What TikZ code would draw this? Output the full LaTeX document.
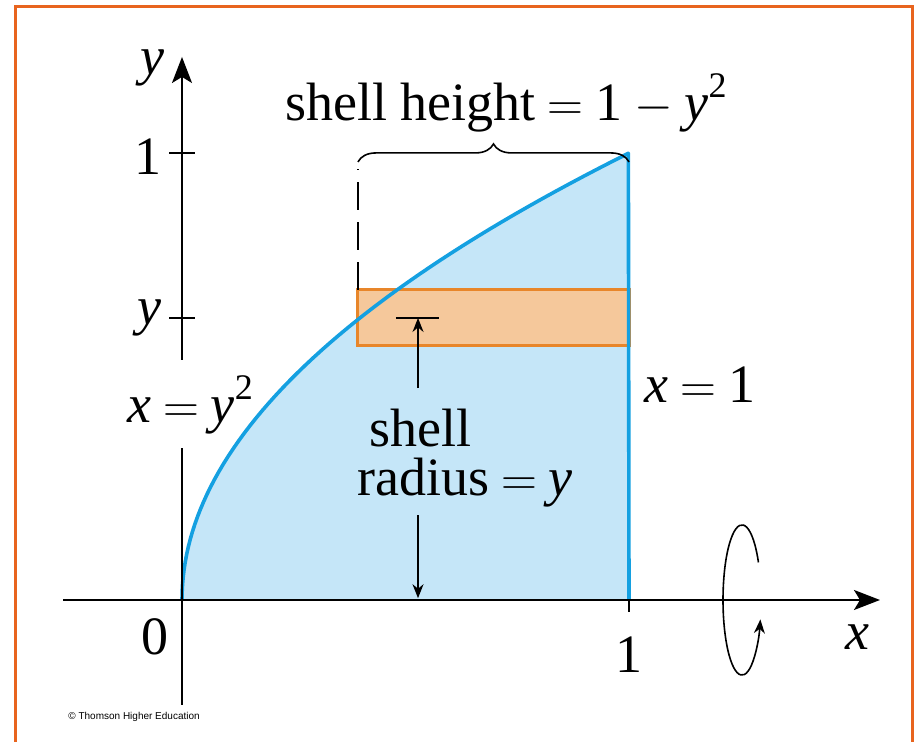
\documentclass[tikz,border=0pt]{standalone}
\usepackage{fontspec}
\setmainfont{Liberation Serif}
\newfontfamily\credfont{Liberation Sans}
\usetikzlibrary{arrows.meta, positioning, decorations.pathreplacing}

\definecolor{frameorange}{RGB}{232,100,30}
\definecolor{regionblue}{RGB}{197,230,248}
\definecolor{curveblue}{RGB}{20,160,225}
\definecolor{shellfill}{RGB}{245,200,155}
\definecolor{shelledge}{RGB}{232,134,42}

% wide relation signs as in the printed figure
\newcommand{\eqsgn}{\hspace{0.22em}$=$\hspace{0.22em}}
\newcommand{\minsgn}{\hspace{0.22em}$-$\hspace{0.22em}}
\newcommand{\sqsup}{\raisebox{0.42em}{\fontsize{18}{20}\selectfont 2}}

\begin{document}
\begin{tikzpicture}[
      x=223.5pt, y=223.5pt,
      >={Stealth[length=7pt, width=5.5pt]},
      axis/.style={line width=1pt, -{Stealth[length=13pt, width=10pt, inset=3pt]}},
      tickline/.style={line width=1pt},
      lbl/.style={font=\fontsize{27}{30}\selectfont, inner sep=0pt},
    ]
    \useasboundingbox (-0.40716,-0.31767) rectangle (1.64206,1.34228);

    % frame, open at the bottom
    \draw[frameorange, line width=1.5pt]
      (-0.3714,-0.31767) -- (-0.3714,1.3266) -- (1.6331,1.3266) -- (1.6331,-0.31767);

    % region and shell
    \fill[regionblue] (0,0) -- plot[domain=0:1, samples=60] ({\x*\x},\x) -- (1,0) -- cycle;
    \draw[shelledge, fill=shellfill, line width=1.5pt] (0.3937,0.5682) rectangle (1,0.6935);
    \draw[curveblue, line width=1.8pt, line join=round]
      plot[domain=0:1, samples=60] ({\x*\x},\x) -- (1,0);

    % axes
    \draw[axis] (-0.2662,0) -- (1.5615,0);
    \draw[axis] (0,0.537) -- (0,1.2148);
    \draw[tickline] (0,0.340) -- (0,-0.2349);
    \draw[tickline] (-0.028,1) -- (0.028,1);
    \draw[tickline] (-0.028,0.6309) -- (0.028,0.6309);
    \draw[tickline] (1,0) -- (1,-0.027);

    % labels
    \node[lbl] (yname) at (-0.067,1.19) {\textit{y}};
    \node[lbl] (xname) at (1.512,-0.083) {\textit{x}};
    \node[lbl, anchor=east] (yone) at (-0.045,0.992) {1};
    \node[lbl, anchor=east] (yval) at (-0.045,0.632) {\textit{y}};
    \node[lbl] (zero) at (-0.06,-0.083) {0};
    \node[lbl] (xone) at (1,-0.123) {1};
    \node[lbl] (curvelbl) at (0.018,0.436) {\textit{x}\eqsgn\textit{y}\sqsup};
    \node[lbl] (linelbl) at (1.159,0.481) {\textit{x}\eqsgn 1};
    \node[lbl] (heightlbl) at (0.7248,1.112) {shell height\eqsgn 1\minsgn\textit{y}\sqsup};
    \node[lbl] (shelllbl) at (0.533,0.385) {shell};
    \node[lbl] (radiuslbl) at (0.633,0.262) {radius\eqsgn\textit{y}};

    % shell height
    \coordinate (dashtop) at (0.3937,0.965);
    \coordinate (shellcorner) at (0.3937,0.6935);
    \draw[line width=0.8pt, dash pattern=on 14pt off 6pt] (shellcorner) -- (dashtop);
    \draw[decorate, decoration={brace, amplitude=9pt}, line width=0.8pt]
      (0.3937,0.98) -- (1,0.98);

    % shell radius
    \coordinate (radtop) at (0.528,0.474);
    \coordinate (barc) at (0.528,0.6309);
    \coordinate (radbot) at (0.528,0.19);
    \coordinate (axc) at (0.528,0.004);
    \draw[tickline] (0.4787,0.6309) -- (0.575,0.6309);
    \draw[->, line width=0.8pt] (radtop) -- (barc);
    \draw[->, line width=0.8pt] (radbot) -- (axc);

    % rotation about the x-axis
    \coordinate (rotstart) at (1.2896,0.084);
    \draw[->, line width=0.8pt] (rotstart)
      arc[start angle=30, end angle=345, x radius=0.0425, y radius=0.168];

    \node[anchor=west, inner sep=0pt, font=\credfont\fontsize{5}{6}\selectfont]
      (credit) at (-0.255,-0.262) {© Thomson Higher Education};

  \end{tikzpicture}
\end{document}
